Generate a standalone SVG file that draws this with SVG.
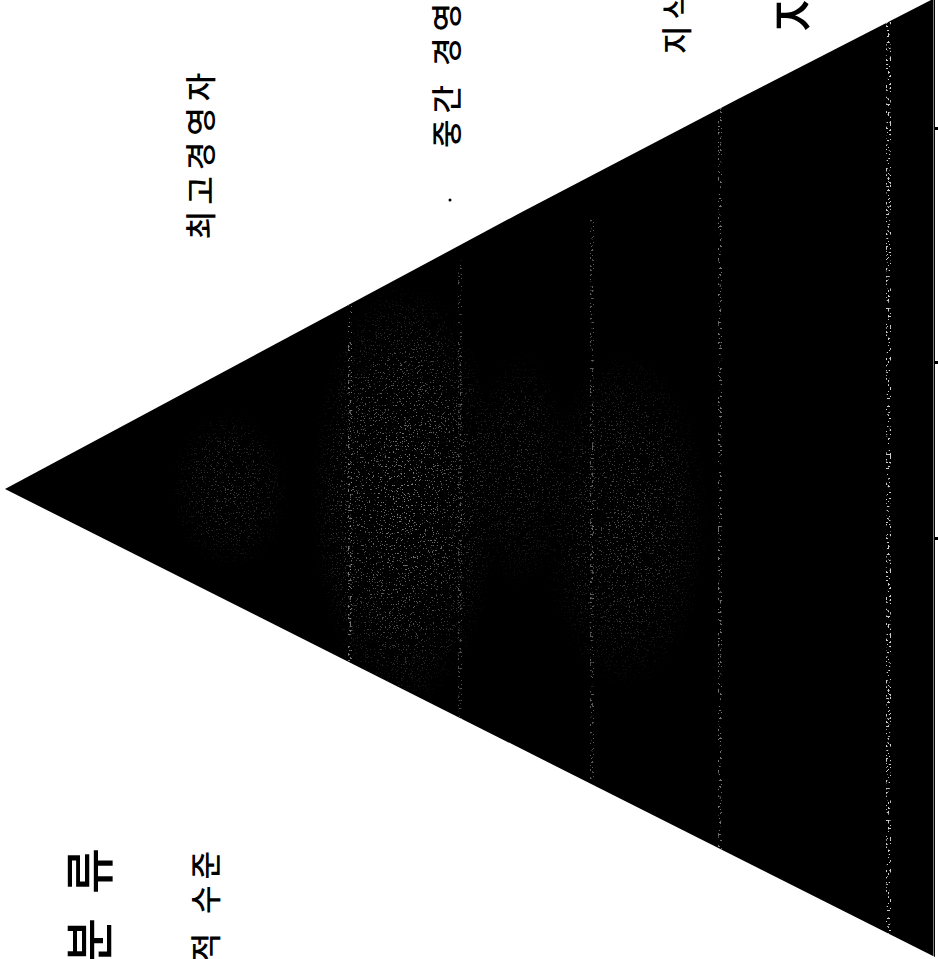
<svg xmlns="http://www.w3.org/2000/svg" width="938" height="959" viewBox="0 0 938 959">
<style>
.lbl{font-family:"Noto Sans CJK KR","Noto Sans",sans-serif;font-weight:500;fill:#000;dominant-baseline:central}
.mid{font-size:31px;letter-spacing:6px}
.big{font-size:50px;letter-spacing:24px}
</style>
<defs>
<clipPath id="tri"><polygon points="5,489 520,213 740,98 933,-1 935,-1 935,957"/></clipPath>
<filter id="spk" x="0" y="0" width="1" height="1">
<feTurbulence type="fractalNoise" baseFrequency="0.75" numOctaves="2" seed="5" result="n"/>
<feColorMatrix in="n" type="matrix" values="0 0 0 0 1 0 0 0 0 1 0 0 0 0 1 16 0 0 0 -10.4" result="s"/>
<feComposite in="s" in2="SourceAlpha" operator="in"/>
</filter>
<filter id="spk2" x="0" y="0" width="1" height="1">
<feTurbulence type="fractalNoise" baseFrequency="0.5" numOctaves="2" seed="11" result="n"/>
<feColorMatrix in="n" type="matrix" values="0 0 0 0 1 0 0 0 0 1 0 0 0 0 1 14 0 0 0 -8.3" result="s"/>
<feComposite in="s" in2="SourceAlpha" operator="in"/>
</filter>
<radialGradient id="fade">
<stop offset="0" stop-color="#fff"/>
<stop offset="0.6" stop-color="#fff" stop-opacity="0.6"/>
<stop offset="1" stop-color="#fff" stop-opacity="0"/>
</radialGradient>
<mask id="patches" maskUnits="userSpaceOnUse" x="0" y="0" width="938" height="959">
<ellipse cx="405" cy="495" rx="95" ry="215" fill="url(#fade)" opacity="0.9"/>
<ellipse cx="625" cy="520" rx="85" ry="170" fill="url(#fade)" opacity="0.55"/>
<ellipse cx="230" cy="490" rx="60" ry="80" fill="url(#fade)" opacity="0.45"/>
<ellipse cx="520" cy="470" rx="50" ry="120" fill="url(#fade)" opacity="0.4"/>
</mask>
</defs>
<rect width="938" height="959" fill="#fff"/>

<g id="pyramid">
<polygon points="5,489 520,213 740,98 933,-1 935,-1 935,957" fill="#000"/>
<g clip-path="url(#tri)">
<rect x="0" y="0" width="938" height="959" fill="#fff" fill-opacity="0.6" filter="url(#spk)" mask="url(#patches)"/>
<rect x="886" y="0" width="5" height="959" fill="#fff" fill-opacity="0.8" filter="url(#spk2)"/>
<rect x="718" y="100" width="4" height="780" fill="#fff" fill-opacity="0.45" filter="url(#spk2)"/>
<rect x="590" y="220" width="4" height="560" fill="#fff" fill-opacity="0.35" filter="url(#spk2)"/>
<rect x="348" y="280" width="4" height="420" fill="#fff" fill-opacity="0.45" filter="url(#spk2)"/>
<rect x="458" y="260" width="4" height="460" fill="#fff" fill-opacity="0.3" filter="url(#spk2)"/>
</g>
<line x1="933.5" y1="0" x2="933.5" y2="957" stroke="#fff" stroke-width="1" stroke-opacity="0.5"/>
<rect x="934" y="127" width="5" height="3" fill="#000"/>
<rect x="934" y="361" width="5" height="3" fill="#000"/>
<rect x="934" y="537" width="5" height="3" fill="#000"/>
</g>

<g id="label-top"><text class="lbl mid" text-anchor="middle" transform="translate(198,153) rotate(-90)">최고경영자</text></g>
<g id="label-middle"><text class="lbl mid" text-anchor="start" transform="translate(444,148) rotate(-90)">중간 경영자</text></g>
<g id="label-knowledge"><text class="lbl mid" text-anchor="start" transform="translate(674,54) rotate(-90)">지식</text></g>
<g id="label-level"><text class="lbl mid" text-anchor="end" transform="translate(203,845) rotate(-90)">적 수준</text></g>
<g id="title-left"><text class="lbl big" text-anchor="start" transform="translate(86,964) rotate(-90)">분류</text></g>
<g id="title-right"><text class="lbl big" text-anchor="start" transform="translate(792,32) rotate(-90)">지</text></g>
<circle cx="450" cy="200" r="1.5" fill="#000"/>
</svg>
